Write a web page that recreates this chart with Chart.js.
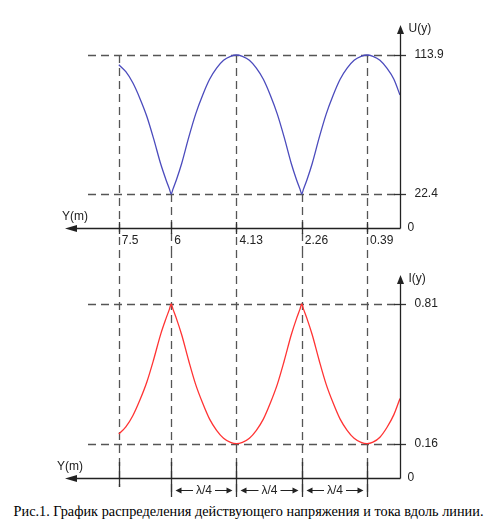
<!DOCTYPE html>
<html>
<head>
<meta charset="utf-8">
<script src="https://cdn.jsdelivr.net/npm/chart.js@4.4.0/dist/chart.umd.min.js"></script>
<style>
  body { margin: 0; background: #fff; width: 497px; height: 531px; position: relative; overflow: hidden; }
  canvas { position: absolute; left: 0; }
  #uChart { top: 0; }
  #iChart { top: 250px; }
  #caption { position: absolute; top: 502px; left: 0; width: 497px; text-align: center;
             font-family: 'Liberation Serif', 'Times New Roman', serif; font-size: 14.3px; line-height: 18px; color: #000; }
</style>
</head>
<body>
<canvas id="uChart" width="497" height="250"></canvas>
<canvas id="iChart" width="497" height="250"></canvas>
<div id="caption">Рис.1. График распределения действующего напряжения и тока вдоль линии.</div>
<script>
// Координата вдоль линии, м (ось Y направлена влево)
const positionsM = [
  7.5, 7.3, 7.1, 6.9, 6.7, 6.5, 6.3, 6.15, 6.05, 6.0,
  5.95, 5.85, 5.7, 5.5, 5.3, 5.1, 4.9, 4.7, 4.5, 4.3, 4.13,
  3.96, 3.76, 3.56, 3.36, 3.16, 2.96, 2.76, 2.56, 2.41, 2.31, 2.26,
  2.21, 2.11, 1.96, 1.76, 1.56, 1.36, 1.16, 0.96, 0.76, 0.56, 0.39,
  0.22, 0.02, -0.18, -0.38, -0.555
];
// Действующее напряжение U(y)
const voltageU = [
  107.5, 102.9, 95.6, 85.5, 73.6, 58.5, 42.1, 31.8, 25.6, 22.4,
  25.6, 31.8, 42.5, 59.5, 75.0, 87.4, 97.9, 105.2, 110.4, 113.0, 113.9,
  113.0, 110.4, 105.2, 97.9, 87.4, 75.0, 59.5, 42.5, 31.8, 25.6, 22.4,
  25.6, 31.8, 42.5, 59.5, 75.0, 87.4, 97.9, 105.2, 110.4, 113.0, 113.9,
  113.0, 110.4, 105.2, 97.9, 87.5
];
// Действующий ток I(y)
const currentI = [
  0.205, 0.238, 0.290, 0.362, 0.446, 0.553, 0.670, 0.742, 0.786, 0.81,
  0.786, 0.742, 0.667, 0.547, 0.436, 0.349, 0.274, 0.222, 0.185, 0.166, 0.16,
  0.166, 0.185, 0.222, 0.274, 0.349, 0.436, 0.547, 0.667, 0.742, 0.786, 0.81,
  0.786, 0.742, 0.667, 0.547, 0.436, 0.349, 0.274, 0.222, 0.185, 0.166, 0.16,
  0.167, 0.190, 0.235, 0.295, 0.370
];
const tickPositions = [7.5, 6, 4.13, 2.26, 0.39];
const tickLabels = ['7.5', '6', '4.13', '2.26', '0.39'];
const uLevels = [22.4, 113.9];
const uLevelLabels = ['22.4', '113.9'];
const iLevels = [0.16, 0.81];
const iLevelLabels = ['0.16', '0.81'];

const FONT = '12px "Liberation Sans", Arial, sans-serif';

function arrowHead(ctx, x, y, dir, len, half) {
  ctx.beginPath();
  ctx.moveTo(x, y);
  if (dir === 'left') { ctx.lineTo(x + len, y - half); ctx.lineTo(x + len, y + half); }
  if (dir === 'right') { ctx.lineTo(x - len, y - half); ctx.lineTo(x - len, y + half); }
  if (dir === 'up') { ctx.lineTo(x - half, y + len); ctx.lineTo(x + half, y + len); }
  ctx.closePath();
  ctx.fill();
}

// рисует оси, штриховые линии и подписи схемы
const schemePlugin = {
  id: 'scheme',
  beforeDatasetsDraw(chart, args, o) {
    const ctx = chart.ctx, xs = chart.scales.x, ys = chart.scales.y, area = chart.chartArea;
    ctx.save();
    ctx.strokeStyle = '#555';
    ctx.lineWidth = 1.3;
    ctx.setLineDash([8, 5]);
    o.levels.forEach(v => {
      const py = Math.round(ys.getPixelForValue(v)) + 0.5;
      ctx.beginPath(); ctx.moveTo(88, py); ctx.lineTo(area.right - 5, py); ctx.stroke();
    });
    tickPositions.forEach((t, i) => {
      const px = Math.round(xs.getPixelForValue(t)) + 0.5;
      const top = o.vStart ? Math.round(ys.getPixelForValue(o.vStart[i])) : 0;
      ctx.beginPath(); ctx.moveTo(px, top); ctx.lineTo(px, o.vEnd[i]); ctx.stroke();
    });
    ctx.setLineDash([]);
    ctx.strokeStyle = '#333';
    // сплошные засечки
    o.levels.forEach(v => {
      const py = Math.round(ys.getPixelForValue(v)) + 0.5;
      ctx.beginPath(); ctx.moveTo(area.right - 6, py); ctx.lineTo(area.right + 6, py); ctx.stroke();
    });
    tickPositions.forEach((t, i) => {
      const px = Math.round(xs.getPixelForValue(t)) + 0.5;
      ctx.beginPath(); ctx.moveTo(px, area.bottom + o.tickUp); ctx.lineTo(px, area.bottom + o.tickDown[i]); ctx.stroke();
    });
    ctx.restore();
  },
  afterDatasetsDraw(chart, args, o) {
    const ctx = chart.ctx, xs = chart.scales.x, ys = chart.scales.y, area = chart.chartArea;
    ctx.save();
    ctx.strokeStyle = '#222';
    ctx.fillStyle = '#222';
    ctx.lineWidth = 1.3;
    const ay = Math.round(area.bottom) + 0.5, ax = Math.round(area.right) + 0.5;
    ctx.beginPath(); ctx.moveTo(70, ay); ctx.lineTo(ax, ay); ctx.stroke();
    arrowHead(ctx, 65, ay, 'left', 12, 3.5);
    ctx.beginPath(); ctx.moveTo(ax, ay); ctx.lineTo(ax, area.top + 6); ctx.stroke();
    arrowHead(ctx, ax, area.top, 'up', 9, 3.5);

    ctx.font = FONT;
    ctx.textBaseline = 'middle';
    ctx.textAlign = 'left';
    ctx.fillText(o.name, ax + 8, area.top + 4);
    ctx.fillText('Y(m)', o.ymX, area.bottom - 11);
    ctx.fillText('0', ax + 7, ay - 1);
    o.levels.forEach((v, i) => ctx.fillText(o.levelLabels[i], ax + 14, ys.getPixelForValue(v)));
    if (o.tickText) {
      tickPositions.forEach((t, i) => ctx.fillText(tickLabels[i], xs.getPixelForValue(t) + 3, ay + 12));
    }
    if (o.quarter) {
      const qy = ay + 12;
      for (let i = 1; i < tickPositions.length - 1; i++) {
        const a = Math.round(xs.getPixelForValue(tickPositions[i])) + 0.5;
        const b = Math.round(xs.getPixelForValue(tickPositions[i + 1])) + 0.5;
        const mid = (a + b) / 2;
        ctx.textAlign = 'center';
        ctx.fillText('λ/4', mid, qy);
        ctx.lineWidth = 1;
        ctx.beginPath();
        ctx.moveTo(a + 6, qy); ctx.lineTo(mid - 11, qy);
        ctx.moveTo(mid + 11, qy); ctx.lineTo(b - 6, qy);
        ctx.stroke();
        arrowHead(ctx, a + 4, qy, 'left', 6, 3);
        arrowHead(ctx, b - 4, qy, 'right', 6, 3);
      }
    }
    ctx.restore();
  }
};

function makeChart(id, values, color, yMax, scheme) {
  return new Chart(document.getElementById(id).getContext('2d'), {
    type: 'line',
    data: {
      datasets: [{
        data: positionsM.map((x, i) => ({ x: x, y: values[i] })),
        borderColor: color,
        borderWidth: 1.3,
        pointRadius: 0,
        cubicInterpolationMode: 'monotone',
        fill: false
      }]
    },
    options: {
      responsive: false,
      animation: false,
      devicePixelRatio: 1,
      layout: { padding: { left: 63, right: 97, top: 25, bottom: 22 } },
      scales: {
        x: { type: 'linear', reverse: true, min: -0.555, max: 9.1, display: false },
        y: { type: 'linear', min: 0, max: yMax, display: false }
      },
      plugins: { legend: { display: false }, tooltip: { enabled: false }, scheme: scheme }
    },
    plugins: [schemePlugin]
  });
}

// верхний график - напряжение
makeChart('uChart', voltageU, '#4b4bbd', 133.65, {
  name: 'U(y)', levels: uLevels, levelLabels: uLevelLabels,
  vStart: [113.9, 22.4, 113.9, 22.4, 113.9], vEnd: [250, 250, 250, 250, 250],
  tickUp: -6, tickDown: [6, 6, 6, 6, 6], tickText: true, quarter: false, ymX: 62
});

// нижний график - ток
makeChart('iChart', currentI, '#ff3333', 0.945, {
  name: 'I(y)', levels: iLevels, levelLabels: iLevelLabels,
  vStart: null, vEnd: [237, 247, 247, 247, 247],
  tickUp: -16, tickDown: [9, 19, 19, 19, 19], tickText: false, quarter: true, ymX: 57
});
</script>
</body>
</html>
